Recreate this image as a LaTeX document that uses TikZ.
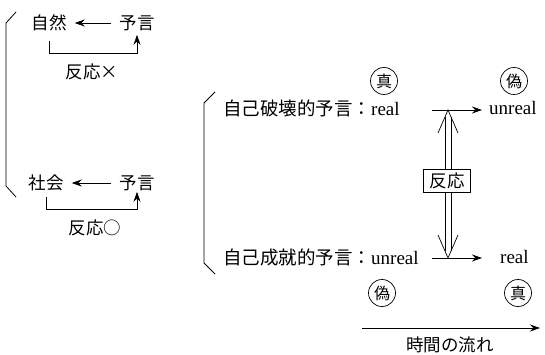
\documentclass[tikz,border=0pt]{standalone}
\usepackage{fontspec}
\setmainfont{Liberation Serif}
\newfontfamily\jp{Noto Sans CJK JP}
\usetikzlibrary{arrows.meta,calc}
\tikzset{
  lbl/.style={inner sep=0pt, font=\jp\fontsize{17.5}{20}\selectfont},
  rowtxt/.style={inner sep=0pt, anchor=west, font=\fontsize{19}{22}\selectfont},
  circ/.style={draw, circle, line width=0.7pt, minimum size=27pt, inner sep=0pt, font=\jp\fontsize{16}{18}\selectfont},
  boxnode/.style={draw, line width=0.7pt, minimum width=47pt, minimum height=23pt, inner sep=0pt, font=\jp\fontsize{17.5}{20}\selectfont},
  ln/.style={line width=0.8pt},
  arr/.style={ln, -{Stealth[length=10pt,width=7pt]}},
  opentip/.style={line width=0.7pt}
}
\begin{document}
\begin{tikzpicture}[x=1pt,y=-1pt]
\useasboundingbox (0,0) rectangle (545,355);
% left part
\node[lbl] (shizen) at (49,23) {自然};
\node[lbl] (yogenA) at (137,23) {予言};
\draw[arr, shorten <=8pt, shorten >=8pt] (yogenA.west) -- (shizen.east);
\draw[arr] ([yshift=-10pt]shizen.south) -- ++(0,12) -| ([yshift=-4pt]yogenA.south);
\node[lbl] (hannoA) at (92,72) {反応×};

\node[lbl] (shakai) at (46,183) {社会};
\node[lbl] (yogenB) at (137,183) {予言};
\draw[arr, shorten <=8pt, shorten >=8pt] (yogenB.west) -- (shakai.east);
\draw[arr] ([yshift=-6pt]shakai.south) -- ++(0,12) -| ([yshift=-1pt]yogenB.south);
\node[lbl] (hannoB) at (95,228) {反応○};

\draw[ln] (16,12) -- (6,23) -- (6,186) -- (16,197);

% right part
\draw[ln] (215,92) -- (204,103) -- (204,263) -- (215,274);
\node[rowtxt] (sd) at (223,108) {{\jp\fontsize{18.5}{22}\selectfont 自己破壊的予言：}real};
\node[rowtxt] (unrealA) at (489,108) {unreal};
\node[rowtxt] (sf) at (223,257) {{\jp\fontsize{18.5}{22}\selectfont 自己成就的予言：}unreal};
\node[rowtxt] (realB) at (500,257) {real};
\coordinate (aS) at (432,110);
\coordinate (bS) at (432,258);
\draw[arr] (aS) -- ([xshift=-7pt]unrealA.west |- aS);
\draw[arr] (bS) -- ([xshift=-18pt]realB.west |- bS);

\node[circ] (c1) at (384,81) {真};
\node[circ] (c2) at (514,81) {偽};
\node[circ] (c3) at (382,293) {偽};
\node[circ] (c4) at (518,293) {真};

\node[boxnode] (box) at (447,181) {反応};
\coordinate (tipT) at (448,110);
\coordinate (tipB) at (448,258);
\draw[opentip] ($(tipT)+(-10,23)$) -- (tipT) -- ($(tipT)+(10,23)$);
\draw[opentip] ($(tipB)+(-10,-23)$) -- (tipB) -- ($(tipB)+(10,-23)$);
\draw[opentip] ($(tipT)+(-3,7)$) -- ($(tipT |- box.north)+(-3,0)$);
\draw[opentip] ($(tipT)+(3,7)$) -- ($(tipT |- box.north)+(3,0)$);
\draw[opentip] ($(tipB |- box.south)+(-3,0)$) -- ($(tipB)+(-3,-7)$);
\draw[opentip] ($(tipB |- box.south)+(3,0)$) -- ($(tipB)+(3,-7)$);

% time arrow
\coordinate (t1) at (362,328);
\coordinate (t2) at (540,328);
\draw[arr] (t1) -- (t2);
\node[lbl] (time) at (450,345) {時間の流れ};
\end{tikzpicture}
\end{document}
